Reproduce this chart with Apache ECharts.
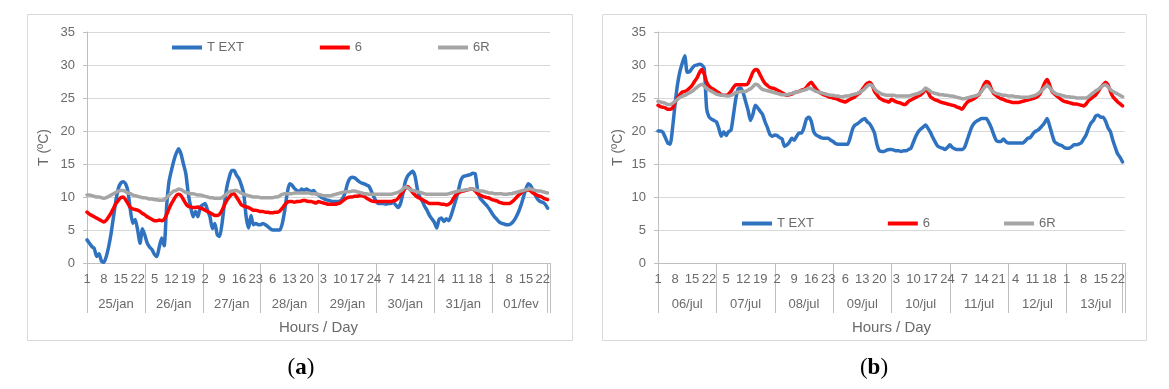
<!DOCTYPE html>
<html><head><meta charset="utf-8">
<script src="https://cdn.jsdelivr.net/npm/echarts@6/dist/echarts.min.js"></script>
<style>html,body{margin:0;padding:0;background:#fff}#c{width:1169px;height:389px}</style>
</head><body><div id="c"></div>
<script>
// ---------- DATA ----------
const hoursOfDay = [1,2,3,4,5,6,7,8,9,10,11,12,13,14,15,16,17,18,19,20,21,22,23,24];
const leftDays  = ['25/jan','26/jan','27/jan','28/jan','29/jan','30/jan','31/jan','01/fev'];
const rightDays = ['06/jul','07/jul','08/jul','09/jul','10/jul','11/jul','12/jul','13/jul'];
const seriesNames = ['T EXT', '6', '6R'];
const yTickValues = [0,5,10,15,20,25,30,35];

const leftTExt = [
  3.5,3.0,2.5,2.2,1.0,1.4,0.3,0.1,1.0,2.5,4.5,7.0,9.5,11.3,12.1,12.3,12.0,10.8,8.0,6.0,6.6,5.0,3.0,5.2,
  4.2,3.0,2.4,2.0,1.3,1.0,2.5,3.8,2.6,8.5,12.3,14.0,15.5,16.6,17.3,16.5,15.0,13.5,10.5,8.5,7.0,7.8,7.0,8.5,
  8.8,9.0,8.0,7.0,5.2,6.0,4.3,4.0,6.0,9.0,11.5,13.0,14.0,14.0,13.3,12.8,11.8,10.5,7.0,5.3,7.2,5.8,6.0,5.8,
  5.8,6.0,5.8,5.5,5.2,5.0,5.0,5.0,5.0,6.0,8.0,10.5,12.0,11.8,11.3,11.0,10.8,11.2,11.0,11.2,11.0,10.8,11.0,10.5,
  10.3,10.0,9.8,9.6,9.5,9.4,9.3,9.3,9.3,9.4,9.8,10.6,12.0,12.8,13.0,12.9,12.6,12.3,12.1,12.0,11.8,11.6,10.8,10.0,
  9.3,9.0,9.0,9.0,8.9,9.0,9.0,9.2,8.8,8.4,9.0,10.5,12.3,13.2,13.6,13.9,13.2,11.2,10.0,9.4,8.6,8.0,7.2,6.7,
  6.2,5.3,6.6,6.8,6.3,6.7,6.4,7.2,8.4,9.6,11.0,12.5,13.1,13.2,13.3,13.4,13.6,13.5,11.0,9.8,9.4,9.0,8.6,8.1,
  7.5,7.0,6.6,6.2,6.0,5.9,5.8,5.8,6.0,6.4,7.0,7.8,8.8,10.0,11.2,12.0,11.7,11.0,10.2,9.6,9.3,9.2,8.9,8.3
];
const left6 = [
  7.7,7.4,7.2,7.0,6.8,6.6,6.4,6.2,6.5,7.0,7.6,8.3,9.0,9.5,9.9,10.0,9.6,9.0,8.4,8.2,8.1,8.0,7.8,7.5,
  7.3,7.0,6.8,6.6,6.4,6.4,6.5,6.4,6.6,7.3,8.2,9.0,9.6,10.2,10.4,10.2,9.6,9.0,8.6,8.5,8.4,8.4,8.5,8.3,
  8.2,8.0,7.8,7.6,7.4,7.2,7.2,7.4,8.0,8.8,9.5,10.0,10.4,10.5,10.0,9.4,8.8,8.6,8.5,8.4,8.2,8.0,8.0,7.9,
  7.8,7.8,7.7,7.7,7.6,7.6,7.7,7.7,7.9,8.3,8.8,9.2,9.3,9.3,9.2,9.3,9.3,9.4,9.5,9.4,9.3,9.3,9.2,9.1,
  9.3,9.2,9.1,9.0,8.9,8.9,8.9,8.9,9.0,9.1,9.4,9.7,9.9,10.0,10.0,10.1,10.1,10.2,10.2,10.1,9.8,9.6,9.4,9.3,
  9.3,9.3,9.3,9.3,9.3,9.3,9.3,9.4,9.5,9.8,10.3,10.8,11.3,11.6,11.2,10.7,10.3,10.0,9.8,9.6,9.4,9.2,9.0,9.0,
  9.0,9.0,9.0,8.9,8.9,8.8,8.9,9.2,9.8,10.3,10.6,10.8,10.9,11.0,11.1,11.2,11.2,10.9,10.5,10.3,10.1,10.0,9.9,9.8,
  9.6,9.5,9.4,9.2,9.1,9.0,9.0,9.0,9.2,9.5,9.9,10.3,10.6,10.9,11.0,11.1,10.9,10.6,10.4,10.2,10.1,9.9,9.7,9.6
];
const left6R = [
  10.3,10.3,10.2,10.1,10.0,10.0,9.9,9.8,9.9,10.1,10.3,10.5,10.7,10.9,11.0,11.0,10.8,10.6,10.5,10.3,10.2,10.1,10.0,9.9,
  9.9,9.8,9.7,9.7,9.6,9.6,9.5,9.5,9.6,9.9,10.3,10.6,10.9,11.0,11.2,11.1,10.9,10.7,10.6,10.5,10.5,10.4,10.3,10.3,
  10.2,10.1,10.0,9.9,9.9,9.8,9.8,9.8,9.9,10.2,10.5,10.8,10.9,11.0,11.0,10.8,10.6,10.4,10.3,10.2,10.1,10.0,10.0,10.0,
  9.9,9.9,9.9,9.9,9.9,9.9,10.0,10.0,10.2,10.4,10.5,10.5,10.5,10.5,10.6,10.6,10.6,10.6,10.6,10.6,10.6,10.5,10.5,10.5,
  10.4,10.3,10.2,10.2,10.2,10.2,10.3,10.4,10.5,10.6,10.7,10.8,10.8,10.8,10.9,10.9,10.8,10.7,10.6,10.5,10.5,10.4,10.4,10.4,
  10.4,10.4,10.4,10.4,10.4,10.4,10.4,10.5,10.6,10.7,10.9,11.2,11.5,11.4,11.1,11.0,10.9,10.8,10.7,10.6,10.5,10.4,10.4,10.4,
  10.4,10.4,10.4,10.4,10.4,10.4,10.5,10.6,10.7,10.8,10.9,11.0,11.0,11.1,11.1,11.2,11.2,11.1,11.0,10.9,10.9,10.8,10.7,10.6,
  10.6,10.5,10.5,10.5,10.5,10.4,10.4,10.5,10.5,10.6,10.7,10.8,10.9,11.0,11.1,11.2,11.2,11.1,11.0,10.9,10.9,10.8,10.7,10.6
];

const rightTExt = [
  20.0,20.0,19.8,19.0,18.2,18.0,20.5,24.0,27.0,29.0,30.3,31.4,28.9,29.0,29.5,29.9,30.0,30.1,30.0,29.5,23.4,22.1,21.8,21.6,
  21.4,20.4,19.2,19.9,19.3,19.9,20.1,22.4,24.9,26.4,26.5,25.8,24.5,23.2,21.6,22.5,23.9,23.5,23.0,22.5,21.4,20.5,19.5,19.2,
  19.4,19.3,19.0,18.8,17.7,17.9,18.3,18.9,18.6,19.2,19.7,19.7,20.5,21.8,22.1,21.5,19.9,19.4,19.2,19.0,18.9,18.9,18.9,18.6,
  18.4,18.1,18.0,18.0,18.0,18.0,18.0,19.0,20.3,20.9,21.1,21.4,21.7,21.9,21.4,21.1,20.5,19.7,18.0,17.0,16.9,16.9,17.1,17.2,
  17.2,17.1,17.0,17.0,16.9,17.0,17.0,17.2,17.4,18.3,19.2,19.9,20.3,20.6,20.9,20.4,19.8,19.0,18.3,17.7,17.5,17.4,17.2,17.5,
  17.9,17.5,17.3,17.2,17.2,17.2,17.5,18.5,19.6,20.6,21.2,21.5,21.7,21.9,21.9,21.9,21.3,20.5,19.5,18.6,18.4,18.4,18.8,18.4,
  18.2,18.2,18.2,18.2,18.2,18.2,18.2,18.5,18.9,19.0,19.5,19.9,20.1,20.4,20.8,21.3,21.9,20.8,19.5,18.4,18.1,17.9,17.8,17.5,
  17.4,17.4,17.6,17.9,17.9,18.0,18.2,18.8,19.4,20.4,21.2,21.6,22.3,22.4,22.1,22.1,21.5,20.5,19.9,18.6,17.5,16.5,16.0,15.3
];
const right6 = [
  23.9,23.7,23.6,23.5,23.3,23.3,23.5,24.3,25.0,25.5,25.9,26.0,26.2,26.5,26.9,27.5,28.0,28.8,29.3,28.6,27.4,26.8,26.5,26.3,
  26.0,25.8,25.5,25.4,25.4,25.6,26.0,26.6,27.0,27.0,27.0,27.0,27.0,27.2,28.0,28.9,29.3,29.2,28.5,27.8,27.2,26.9,26.6,26.5,
  26.4,26.2,26.0,25.8,25.6,25.4,25.5,25.6,25.8,25.9,26.0,26.2,26.3,26.6,27.1,27.4,26.9,26.4,26.0,25.7,25.5,25.4,25.2,25.1,
  25.0,24.9,24.8,24.6,24.5,24.4,24.6,24.8,25.0,25.2,25.5,25.8,26.3,26.8,27.2,27.4,27.0,26.0,25.5,25.0,24.8,24.6,24.5,24.4,
  24.8,24.6,24.4,24.3,24.2,24.0,24.1,24.5,24.7,24.9,25.1,25.3,25.5,25.8,26.4,25.9,25.2,24.9,24.7,24.6,24.4,24.3,24.2,24.1,
  24.0,23.9,23.8,23.6,23.5,23.3,23.8,24.3,24.6,24.7,24.9,25.2,25.5,26.2,27.0,27.5,27.3,26.4,25.7,25.4,25.1,24.9,24.8,24.6,
  24.5,24.4,24.3,24.3,24.3,24.4,24.5,24.6,24.7,24.8,24.9,25.0,25.2,25.6,26.4,27.3,27.8,27.0,26.0,25.6,25.3,25.0,24.7,24.5,
  24.4,24.3,24.2,24.1,24.1,24.0,23.9,23.8,24.1,24.6,24.9,25.2,25.5,26.0,26.6,27.0,27.4,27.0,26.0,25.2,24.8,24.4,24.1,23.8
];
const right6R = [
  24.5,24.4,24.3,24.2,24.0,24.0,24.2,24.5,24.8,25.1,25.3,25.4,25.6,25.8,26.0,26.3,26.6,26.9,27.1,26.8,26.4,26.2,26.0,25.8,
  25.6,25.5,25.4,25.4,25.3,25.3,25.4,25.6,25.8,25.9,26.0,26.0,26.0,26.2,26.4,26.7,27.1,27.0,26.6,26.3,26.2,26.1,26.0,25.9,
  25.8,25.7,25.6,25.5,25.5,25.5,25.6,25.7,25.8,25.9,26.0,26.1,26.2,26.3,26.5,26.4,26.2,26.0,25.9,25.8,25.7,25.6,25.5,25.4,
  25.4,25.3,25.3,25.2,25.2,25.3,25.3,25.4,25.5,25.6,25.7,25.9,26.1,26.4,26.8,27.0,26.9,26.4,26.0,25.8,25.6,25.5,25.4,25.4,
  25.4,25.4,25.3,25.3,25.3,25.3,25.3,25.3,25.4,25.5,25.6,25.7,25.9,26.1,26.5,26.3,26.0,25.8,25.7,25.6,25.5,25.5,25.4,25.4,
  25.3,25.3,25.2,25.1,25.0,24.9,24.9,25.0,25.1,25.2,25.3,25.4,25.6,26.0,26.5,26.9,26.7,26.2,25.9,25.7,25.6,25.5,25.4,25.4,
  25.3,25.3,25.3,25.2,25.2,25.1,25.1,25.1,25.1,25.2,25.3,25.4,25.6,25.9,26.2,26.6,26.9,26.6,26.1,25.8,25.6,25.5,25.4,25.3,
  25.2,25.2,25.1,25.1,25.0,25.0,25.0,25.0,25.0,25.2,25.5,25.8,26.1,26.3,26.6,26.9,27.0,26.7,26.3,26.0,25.8,25.6,25.4,25.2
];

// ---------- CHART ----------
const FONT = 'Liberation Sans, Arial, sans-serif';
const TXT = '#6a6a6a';
const AX = '#bfbfbf';
const GRIDC = '#d9d9d9';
const COLORS = ['#2f73c0', '#ff0000', '#a5a5a5'];

// hour categories: 24 hours per day, plus one closing empty slot
const hourCats = [];
leftDays.forEach(() => hoursOfDay.forEach(h => hourCats.push(String(h))));
hourCats.push('');
const nPts = hourCats.length - 1;

const grids = [
  { left: 87, top: 32, width: 463, height: 231 },
  { left: 658, top: 32, width: 467, height: 231 }
];

const xAxes = [], yAxes = [], series = [];
const panels = [
  { days: leftDays, data: [leftTExt, left6, left6R], nameGap: 36 },
  { days: rightDays, data: [rightTExt, right6, right6R], nameGap: 33 }
];
panels.forEach((p, gi) => {
  xAxes.push({
    gridIndex: gi, type: 'category', data: hourCats, boundaryGap: false,
    axisLine: { show: true, lineStyle: { color: AX, width: 1 } },
    axisTick: { show: true, length: 50, lineStyle: { color: AX, width: 1 },
      interval: (i) => i % 24 === 0 || i >= nPts - 1 },
    axisLabel: { interval: (i) => i % 7 === 0 && i < nPts, margin: 10,
      fontSize: 13, color: TXT, fontFamily: FONT, hideOverlap: false },
    splitLine: { show: false }
  });
  xAxes.push({
    gridIndex: gi, type: 'category', data: p.days, boundaryGap: true, position: 'bottom',
    axisLine: { show: false }, axisTick: { show: false },
    axisLabel: { interval: 0, margin: 35, fontSize: 13, color: TXT, fontFamily: FONT },
    name: 'Hours / Day', nameLocation: 'middle', nameGap: 57,
    nameTextStyle: { fontSize: 15, color: TXT, fontFamily: FONT }
  });
  yAxes.push({
    gridIndex: gi, type: 'value', min: yTickValues[0], max: yTickValues[yTickValues.length - 1], interval: 5,
    axisLine: { show: true, lineStyle: { color: AX } },
    axisTick: { show: true, length: 4, lineStyle: { color: AX } },
    splitLine: { show: true, lineStyle: { color: GRIDC, width: 1 } },
    axisLabel: { margin: 12, fontSize: 13, color: TXT, fontFamily: FONT },
    name: 'T (ºC)', nameLocation: 'middle', nameRotate: 90, nameGap: p.nameGap,
    nameTextStyle: { fontSize: 14, color: TXT, fontFamily: FONT }
  });
  p.data.forEach((arr, k) => {
    series.push({
      name: seriesNames[k], type: 'line', xAxisIndex: gi * 2, yAxisIndex: gi,
      data: arr, showSymbol: false, symbol: 'none', smooth: 0.2,
      lineStyle: { color: COLORS[k], width: 3.5, cap: 'round', join: 'round' },
      itemStyle: { color: COLORS[k] }, z: 2 + k
    });
  });
});

const legendBase = {
  data: seriesNames, icon: 'rect', itemWidth: 30, itemHeight: 4,
  textStyle: { fontSize: 13, color: TXT, fontFamily: FONT }, selectedMode: false
};

const chart = echarts.init(document.getElementById('c'), null, { renderer: 'canvas' });
chart.setOption({
  animation: false,
  backgroundColor: '#ffffff',
  color: COLORS,
  grid: grids,
  xAxis: xAxes,
  yAxis: yAxes,
  legend: [
    Object.assign({}, legendBase, { left: 167, top: 36, itemGap: 76 }),
    Object.assign({}, legendBase, { left: 737, top: 212, itemGap: 74 })
  ],
  graphic: [
    { type: 'rect', z: -1, shape: { x: 27.5, y: 14.5, width: 545, height: 326 },
      style: { fill: 'none', stroke: '#d9d9d9', lineWidth: 1 } },
    { type: 'rect', z: -1, shape: { x: 602.5, y: 14.5, width: 544, height: 326 },
      style: { fill: 'none', stroke: '#d9d9d9', lineWidth: 1 } },
    { type: 'text', x: 301, y: 368, style: { text: '{p|(}{b|a}{p|)}', align: 'center', verticalAlign: 'middle',
      rich: { p: { fontFamily: 'Liberation Serif, serif', fontSize: 23, fill: '#000' },
              b: { fontFamily: 'Liberation Serif, serif', fontSize: 23, fontWeight: 'bold', fill: '#000' } } } },
    { type: 'text', x: 874, y: 368, style: { text: '{p|(}{b|b}{p|)}', align: 'center', verticalAlign: 'middle',
      rich: { p: { fontFamily: 'Liberation Serif, serif', fontSize: 23, fill: '#000' },
              b: { fontFamily: 'Liberation Serif, serif', fontSize: 23, fontWeight: 'bold', fill: '#000' } } } }
  ],
  series: series
});
</script>
</body></html>
